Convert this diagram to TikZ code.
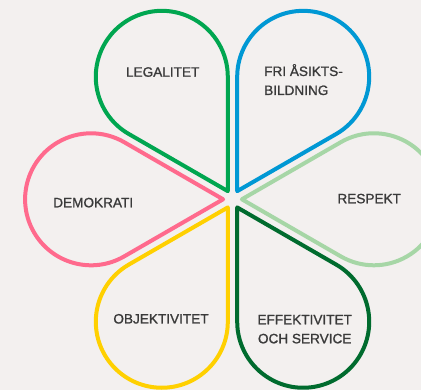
\documentclass[tikz,border=0pt]{standalone}
\usepackage{fontspec}
\setmainfont{Liberation Sans}
\newfontfamily\labfont[FakeBold=1.2]{Liberation Sans}
\definecolor{bg}{HTML}{F3F0EF}
\definecolor{cLeg}{HTML}{00A650}
\definecolor{cFri}{HTML}{0098D4}
\definecolor{cRes}{HTML}{A6D6A6}
\definecolor{cEff}{HTML}{006B2E}
\definecolor{cObj}{HTML}{FFD000}
\definecolor{cDem}{HTML}{FF6A8D}
\definecolor{txt}{HTML}{3A3A3A}
\tikzset{
  petal/.style={line width=4pt, line join=round},
  lab/.style={text=txt, inner sep=0pt, font=\labfont\fontsize{13.6}{19}\selectfont},
}
\newcommand{\petalpath}{(0,0) -- (30:{2*66*cos(30)}) arc[start angle=120, end angle=-120, radius=66] -- cycle}
\begin{document}
\begin{tikzpicture}[x=1pt,y=1pt]
\fill[bg] (0,0) rectangle (421,390);
\useasboundingbox (0,0) rectangle (421,390);
\coordinate (c) at (232.5,190.7);
\begin{scope}
\clip (0,0) rectangle (421,390);
\draw[petal, cLeg, shift={(c)}, rotate=120, shift={(9.4,0)}] \petalpath;
\draw[petal, cFri, shift={(c)}, rotate=60, shift={(9.4,0)}] \petalpath;
\draw[petal, cRes, shift={(c)}, rotate=0, shift={(9.4,0)}] \petalpath;
\draw[petal, cEff, shift={(c)}, rotate=-60, shift={(9.4,0)}] \petalpath;
\draw[petal, cObj, shift={(c)}, rotate=-120, shift={(9.4,0)}] \petalpath;
\draw[petal, cDem, shift={(c)}, rotate=180, shift={(9.4,0)}] \petalpath;
\end{scope}
\node[lab, anchor=base] (leg) at (162.7,313.3) {LEGALITET};
\node[lab, anchor=base west, align=left] (fri) at (264,295) {FRI ÅSIKTS-\\BILDNING};
\node[lab, anchor=base] (dem) at (93.2,182.7) {DEMOKRATI};
\node[lab, anchor=base] (res) at (369.2,186.7) {RESPEKT};
\node[lab, anchor=base] (obj) at (161,66.5) {OBJEKTIVITET};
\node[lab, anchor=base, align=center] (eff) at (304.7,46.7) {EFFEKTIVITET\\OCH SERVICE};
\end{tikzpicture}
\end{document}
